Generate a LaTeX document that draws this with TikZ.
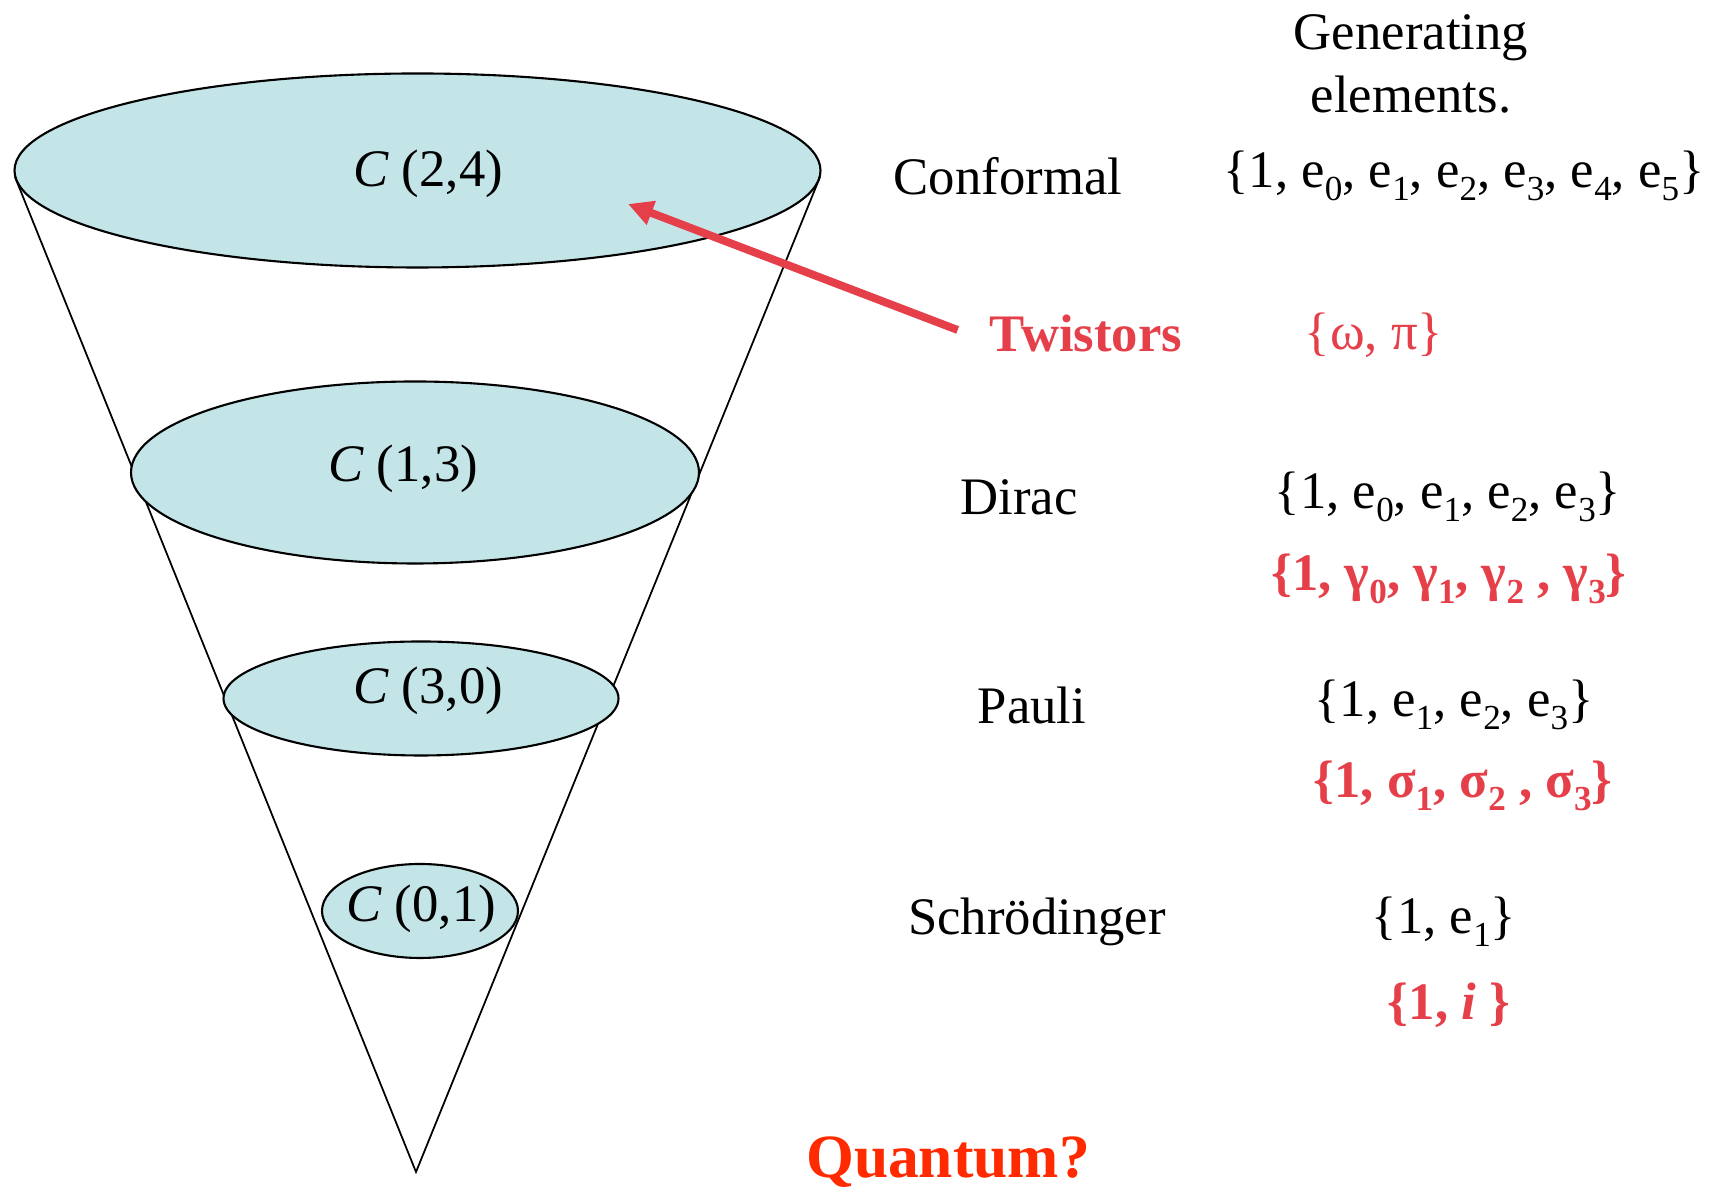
\documentclass[tikz,border=0pt]{standalone}
\usepackage{fontspec}
\setmainfont{Liberation Serif}
\usepackage{tikz}
\usetikzlibrary{arrows.meta}
\definecolor{DiscFill}{HTML}{C4E5E8}
\definecolor{SetRed}{HTML}{E5404A}
\definecolor{QuantRed}{HTML}{FF2A00}
\newcommand{\gsub}[1]{\raisebox{-0.24em}{\fontsize{20}{24}\selectfont #1}}

\begin{document}
\begin{tikzpicture}[x=0.02cm,y=0.02cm,
    every node/.style={font=\fontsize{30}{36}\selectfont},
    disc/.style={fill=DiscFill,draw=black,line width=1.2pt},
    redset/.style={SetRed,font=\fontsize{30}{36}\selectfont\bfseries},
    pointer/.style={SetRed,line width=4.5pt,-{Triangle[length=0.5cm,width=0.48cm]}}]
  \useasboundingbox (0,0) rectangle (1725,1189);
  % Cone.
  \coordinate (rimL) at (15,1012);
  \coordinate (rimR) at (820,1012);
  \coordinate (apex) at (416,17);
  \draw[line width=1pt] (rimL) -- (apex) -- (rimR);
  % Discs, largest on top.
  \draw[disc] (417.5,1018.5) ellipse (403 and 97);
  \draw[disc] (415,716.5) ellipse (284 and 91);
  \draw[disc] (421,490.5) ellipse (197.5 and 57);
  \draw[disc] (420,278) ellipse (98 and 47);
  \node (c24) at (428,1015) {\textit{C} (2,4)};
  \node (c13) at (403,720) {\textit{C} (1,3)};
  \node (c30) at (428,498) {\textit{C} (3,0)};
  \node (c01) at (421,280) {\textit{C} (0,1)};
  % Right-hand column.
  \node[align=center] (gen) at (1411,1125) {Generating\\elements.};
  \node (conf) at (1008,1013) {Conformal};
  \node (confset) at (1464,1013)
    {\{1, e\gsub{0}, e\gsub{1}, e\gsub{2}, e\gsub{3}, e\gsub{4}, e\gsub{5}\}};
  \node[redset] (tw) at (1086,856) {Twistors};
  \node[SetRed] (twset) at (1374,854) {\{ω, π\}};
  \node (dirac) at (1019,692) {Dirac};
  \node (diracset) at (1448,692)
    {\{1, e\gsub{0}, e\gsub{1}, e\gsub{2}, e\gsub{3}\}};
  \node[redset] (gamset) at (1449,610)
    {\{1, γ\gsub{0}, γ\gsub{1}, γ\gsub{2} , γ\gsub{3}\}};
  \node (pauli) at (1032,484) {Pauli};
  \node (pauliset) at (1454,484)
    {\{1, e\gsub{1}, e\gsub{2}, e\gsub{3}\}};
  \node[redset] (sigset) at (1463,403)
    {\{1, σ\gsub{1}, σ\gsub{2} , σ\gsub{3}\}};
  \node (schr) at (1037,267) {Schrödinger};
  \node (schrset) at (1444,267) {\{1, e\gsub{1}\}};
  \node[redset] (iset) at (1449,184) {\{1, \textit{i} \}};
  \node[QuantRed,font=\fontsize{35}{42}\selectfont\bfseries] (quant) at (948,27) {Quantum?};
  % Twistors arrow into the top disc.
  \coordinate (twtip) at (628,985);
  \draw[pointer] ([shift={(-26,3)}]tw.west) -- (twtip);
\end{tikzpicture}
\end{document}
